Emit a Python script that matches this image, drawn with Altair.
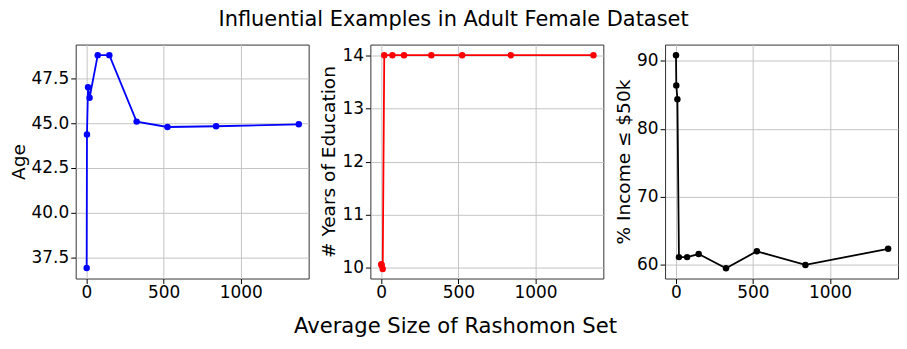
import altair as alt
import pandas as pd

# Average size of Rashomon set (shared x values)
size = [1, 3, 10, 20, 73, 148, 325, 525, 840, 1376]
# Panel series
age = [36.91, 44.36, 47.0, 46.41, 48.79, 48.79, 45.08, 44.78, 44.82, 44.93]
edu = [10.07, 10.05, 9.98, 14.0, 14.0, 14.0, 14.0, 14.0, 14.0, 14.0]
income = [90.83, 86.4, 84.37, 61.15, 61.15, 61.6, 59.52, 62.0, 60.0, 62.37]

x_ticks = [0, 500, 1000]
age_ticks = [37.5, 40.0, 42.5, 45.0, 47.5]
edu_ticks = [10, 11, 12, 13, 14]
inc_ticks = [60, 70, 80, 90]

FONT = "DejaVu Sans"


def panel(values, color, ytitle, ydomain, yticks, yfmt, xtitle="", title_x=None):
    df = pd.DataFrame({"x": size, "y": values, "i": list(range(len(size)))})
    xaxis_kw = dict(values=x_ticks, title=xtitle, format="d", titlePadding=15,
                    titleFontSize=21.2, labelPadding=1)
    if title_x is not None:
        xaxis_kw["titleX"] = title_x
    x = alt.X("x:Q",
              scale=alt.Scale(domain=[-70, 1440], nice=False, zero=False),
              axis=alt.Axis(**xaxis_kw))
    y = alt.Y("y:Q",
              scale=alt.Scale(domain=ydomain, nice=False, zero=False),
              axis=alt.Axis(values=yticks, format=yfmt, title=ytitle))
    base = alt.Chart(df)
    line = base.mark_line(color=color, strokeWidth=1.8).encode(
        x=x, y=y, order="i:Q")
    pts = base.mark_circle(color=color, size=42, opacity=1).encode(x=x, y=y)
    return alt.layer(line, pts).properties(width=234, height=235)


p1 = panel(age, "#0000ff", "Age", [36.32, 49.38], age_ticks, ".1f")
p2 = panel(edu, "#ff0000", "# Years of Education", [9.8, 14.2], edu_ticks, "d",
           xtitle="Average Size of Rashomon Set", title_x=85)
p3 = panel(income, "#000000", "% Income ≤ $50k", [58.0, 92.4], inc_ticks, "d")

chart = alt.hconcat(
    p1, p2, p3,
    spacing=62,
    bounds="flush",
    title=alt.Title("Influential Examples in Adult Female Dataset", offset=14),
).properties(
    padding={"left": 0, "top": 0, "right": 0, "bottom": 0}
).configure_axis(
    labelFont=FONT, labelFontSize=17, labelColor="black",
    titleFont=FONT, titleFontSize=18.6, titleFontWeight="normal", titleColor="black",
    tickColor="black", tickSize=5, labelPadding=2, titlePadding=3,
    gridColor="#c4c4c4", gridWidth=1, gridOpacity=1, domain=False,
).configure_view(
    stroke="#333333", strokeWidth=1
).configure_title(
    font=FONT, fontSize=21, fontWeight="normal", anchor="middle", color="black"
)

chart.save("out.html", embed_options={"renderer": "svg", "actions": False})
